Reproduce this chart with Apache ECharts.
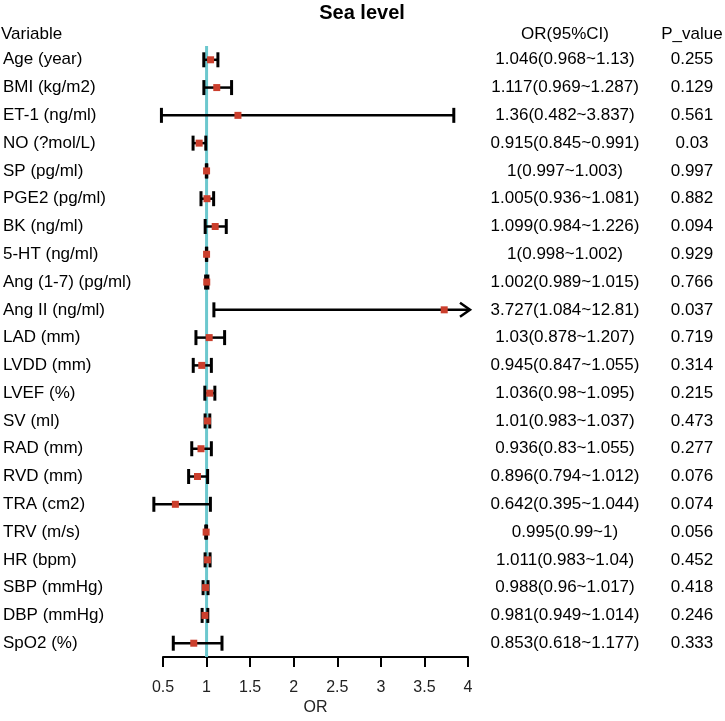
<!DOCTYPE html>
<html>
<head>
<meta charset="utf-8">
<script src="https://cdn.jsdelivr.net/npm/echarts@6/dist/echarts.min.js"></script>
<style>html,body{margin:0;padding:0;background:#fff;}#c{width:725px;height:721px;}</style>
</head>
<body>
<div id="c"></div>
<script>
const variables = ['Age (year)','BMI (kg/m2)','ET-1 (ng/ml)','NO (?mol/L)','SP (pg/ml)','PGE2 (pg/ml)','BK (ng/ml)','5-HT (ng/ml)','Ang (1-7) (pg/ml)','Ang II (ng/ml)','LAD (mm)','LVDD (mm)','LVEF (%)','SV (ml)','RAD (mm)','RVD (mm)','TRA (cm2)','TRV (m/s)','HR (bpm)','SBP (mmHg)','DBP (mmHg)','SpO2 (%)'];
const orValues = [1.046,1.117,1.36,0.915,1,1.005,1.099,1,1.002,3.727,1.03,0.945,1.036,1.01,0.936,0.896,0.642,0.995,1.011,0.988,0.981,0.853];
const lowerCI = [0.968,0.969,0.482,0.845,0.997,0.936,0.984,0.998,0.989,1.084,0.878,0.847,0.98,0.983,0.83,0.794,0.395,0.99,0.983,0.96,0.949,0.618];
const upperCI = [1.13,1.287,3.837,0.991,1.003,1.081,1.226,1.002,1.015,12.81,1.207,1.055,1.095,1.037,1.055,1.012,1.044,1,1.04,1.017,1.014,1.177];
const pValues = ['0.255','0.129','0.561','0.03','0.997','0.882','0.094','0.929','0.766','0.037','0.719','0.314','0.215','0.473','0.277','0.076','0.074','0.056','0.452','0.418','0.246','0.333'];
const xTicks = [0.5,1,1.5,2,2.5,3,3.5,4];

const ciLabels = orValues.map((v,i)=> String(v)+'('+String(lowerCI[i])+'~'+String(upperCI[i])+')');
const X_MIN = xTicks[0], X_MAX = xTicks[xTicks.length-1];
const FONT = 'Liberation Sans, Arial, sans-serif';

const chart = echarts.init(document.getElementById('c'), null, {renderer:'canvas'});

const ciData = variables.map((v,i)=>[lowerCI[i], upperCI[i], i]);
const ptData = variables.map((v,i)=>[orValues[i], i]);
const txtData = variables.map((v,i)=>[i]);

chart.setOption({
  animation:false,
  backgroundColor:'#fff',
  graphic:[
    {type:'text', x:362, y:13, style:{text:'Sea level', font:'bold 20px '+FONT, fill:'#000', align:'center', verticalAlign:'middle'}},
    {type:'text', x:1, y:34, style:{text:'Variable', font:'17px '+FONT, fill:'#000', verticalAlign:'middle', align:'left'}},
    {type:'text', x:565, y:34, style:{text:'OR(95%CI)', font:'17px '+FONT, fill:'#000', verticalAlign:'middle', align:'center'}},
    {type:'text', x:692, y:34, style:{text:'P_value', font:'17px '+FONT, fill:'#000', verticalAlign:'middle', align:'center'}}
  ],
  grid:{left:161, right:257, top:45.9, bottom:54.7},
  xAxis:{
    type:'value', min:X_MIN, max:X_MAX, interval:0.5,
    name:'OR', nameLocation:'middle', nameGap:40,
    nameTextStyle:{fontSize:16, color:'#222', fontFamily:FONT},
    axisLine:{show:true, lineStyle:{color:'#000', width:2}},
    axisTick:{show:true, length:10, lineStyle:{color:'#000', width:2}},
    axisLabel:{fontSize:16, color:'#222', margin:22, fontFamily:FONT, formatter:(v)=>String(v)},
    splitLine:{show:false}
  },
  yAxis:{
    type:'category', data:variables, inverse:true,
    axisLine:{show:false}, axisTick:{show:false}, splitLine:{show:false},
    axisLabel:{align:'left', margin:160, fontSize:17, color:'#000', fontFamily:FONT}
  },
  series:[
    {
      type:'custom', name:'ref', data:[[1]], z:1,
      renderItem:(params, api)=>{
        const cs = params.coordSys;
        const x = api.coord([1,0])[0];
        return {type:'line', shape:{x1:x, y1:cs.y, x2:x, y2:cs.y+cs.height}, style:{stroke:'#6CC8CE', lineWidth:3}};
      },
      encode:{x:0}
    },
    {
      type:'custom', name:'ci', data:ciData, z:2,
      encode:{x:[0,1], y:2},
      renderItem:(params, api)=>{
        const lo = api.value(0), hi = api.value(1), idx = api.value(2);
        const p1 = api.coord([lo, idx]);
        const arrow = hi > X_MAX;
        const p2 = api.coord([Math.min(hi, X_MAX), idx]);
        const h = 7.5;
        const st = {stroke:'#000', lineWidth:2.5, fill:null};
        const ch = [
          {type:'line', shape:{x1:p1[0], y1:p1[1], x2:arrow? p2[0]+2 : p2[0], y2:p2[1]}, style:st},
          {type:'line', shape:{x1:p1[0], y1:p1[1]-h, x2:p1[0], y2:p1[1]+h}, style:{stroke:'#000', lineWidth:3}}
        ];
        if(arrow){
          ch.push({type:'polyline', shape:{points:[[p2[0]-8,p2[1]-7],[p2[0]+2,p2[1]],[p2[0]-8,p2[1]+7]]}, style:{stroke:'#000', lineWidth:2.5, fill:null}});
        } else {
          ch.push({type:'line', shape:{x1:p2[0], y1:p2[1]-h, x2:p2[0], y2:p2[1]+h}, style:{stroke:'#000', lineWidth:3}});
        }
        return {type:'group', children:ch};
      }
    },
    {
      type:'scatter', name:'OR', data:ptData, z:3,
      symbol:'rect', symbolSize:7, itemStyle:{color:'#CB3F2D', opacity:1}
    },
    {
      type:'custom', name:'text', data:txtData, z:4,
      encode:{y:0},
      renderItem:(params, api)=>{
        const idx = api.value(0);
        const y = api.coord([X_MIN, idx])[1];
        return {type:'group', children:[
          {type:'text', x:565, y:y, style:{text:ciLabels[idx], font:'17px '+FONT, fill:'#000', align:'center', verticalAlign:'middle'}},
          {type:'text', x:692, y:y, style:{text:pValues[idx], font:'17px '+FONT, fill:'#000', align:'center', verticalAlign:'middle'}}
        ]};
      }
    }
  ]
});
</script>
</body>
</html>
